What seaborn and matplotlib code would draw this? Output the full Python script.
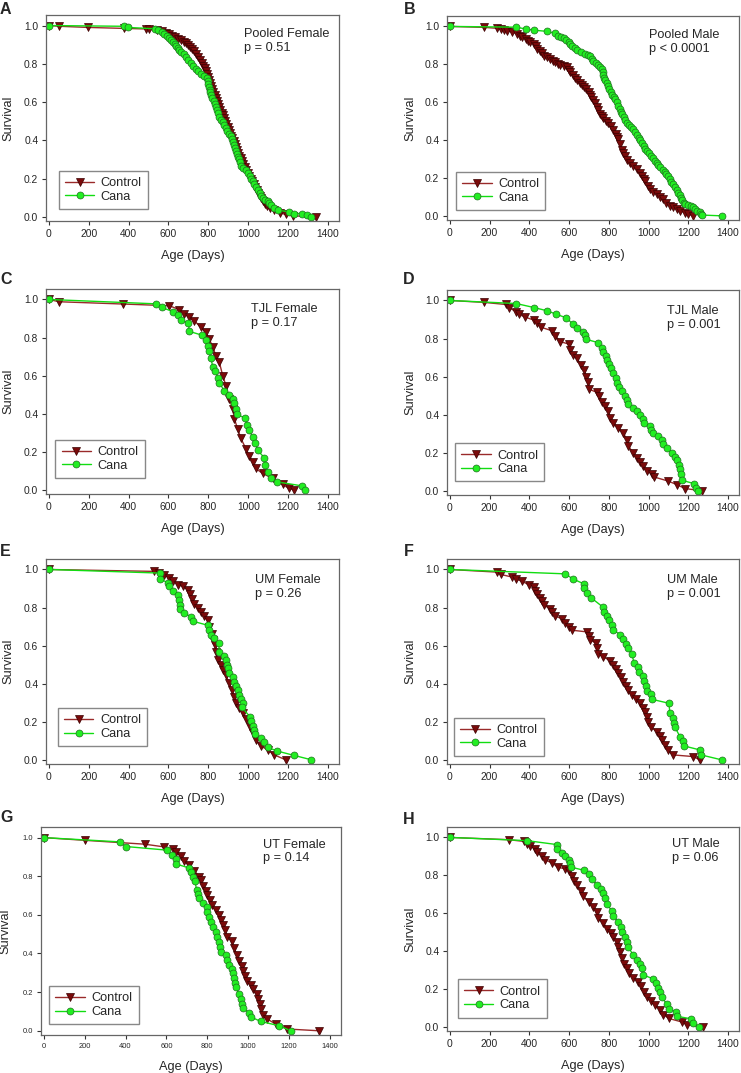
import numpy as np
import pandas as pd
import matplotlib
matplotlib.use("Agg")
import matplotlib.pyplot as plt
import seaborn as sns

# ---------------- Data (age in days, fraction surviving) ---------------- #

# A - Pooled Female
a_ctrl_age = [0, 52, 197, 375, 488, 500, 545, 570, 590, 605, 620, 635, 650, 665, 680, 690, 700, 710, 720, 730,
              740, 750, 760, 767, 775, 782, 790, 795, 800, 805, 810, 815, 820, 825, 832, 838, 845, 850, 855, 860,
              866, 872, 878, 885, 890, 897, 903, 910, 915, 921, 927, 933, 940, 945, 950, 956, 962, 968, 975, 982,
              990, 997, 1005, 1013, 1020, 1028, 1035, 1043, 1050, 1058, 1065, 1073, 1082, 1095, 1110, 1130, 1160,
              1188, 1222, 1338]
a_ctrl_surv = [1.0, 0.996, 0.99, 0.985, 0.982, 0.98, 0.975, 0.97, 0.962, 0.955, 0.946, 0.94, 0.93, 0.924, 0.915,
               0.906, 0.9, 0.888, 0.876, 0.865, 0.85, 0.836, 0.82, 0.806, 0.79, 0.776, 0.76, 0.745, 0.73, 0.716,
               0.70, 0.684, 0.666, 0.65, 0.636, 0.62, 0.604, 0.59, 0.576, 0.56, 0.545, 0.53, 0.516, 0.50, 0.486,
               0.47, 0.455, 0.44, 0.425, 0.41, 0.396, 0.38, 0.365, 0.35, 0.336, 0.32, 0.305, 0.29, 0.275, 0.26,
               0.245, 0.23, 0.215, 0.20, 0.186, 0.17, 0.155, 0.14, 0.125, 0.11, 0.096, 0.08, 0.066, 0.055, 0.045,
               0.035, 0.02, 0.012, 0.005, 0.0]
a_cana_age = [0, 375, 397, 533, 550, 567, 580, 595, 605, 615, 625, 632, 640, 648, 655, 665, 680, 690, 700, 713,
              725, 738, 750, 763, 780, 792, 797, 800, 803, 806, 810, 815, 820, 826, 832, 838, 845, 850, 855, 865,
              872, 880, 888, 895, 905, 913, 918, 922, 927, 932, 938, 943, 948, 953, 958, 963, 975, 988, 1000, 1008,
              1015, 1022, 1030, 1040, 1048, 1057, 1065, 1075, 1085, 1097, 1105, 1113, 1130, 1147, 1205, 1230, 1272,
              1297, 1317]
a_cana_surv = [1.0, 0.996, 0.99, 0.983, 0.975, 0.965, 0.955, 0.945, 0.935, 0.925, 0.915, 0.905, 0.895, 0.88,
               0.87, 0.86, 0.85, 0.835, 0.82, 0.805, 0.79, 0.775, 0.76, 0.745, 0.735, 0.725, 0.71, 0.695, 0.68,
               0.665, 0.65, 0.635, 0.62, 0.605, 0.59, 0.575, 0.56, 0.545, 0.52, 0.505, 0.495, 0.48, 0.465, 0.45,
               0.435, 0.42, 0.405, 0.39, 0.375, 0.36, 0.345, 0.33, 0.315, 0.30, 0.285, 0.265, 0.255, 0.245, 0.23,
               0.215, 0.20, 0.185, 0.17, 0.155, 0.14, 0.125, 0.11, 0.10, 0.09, 0.08, 0.07, 0.06, 0.045, 0.035,
               0.026, 0.017, 0.017, 0.009, 0.0]

# B - Pooled Male
b_ctrl_age = [0, 172, 239, 256, 272, 289, 314, 339, 352, 364, 381, 395, 406, 423, 432, 439, 456, 465, 473, 489,
              505, 520, 531, 545, 556, 575, 590, 600, 606, 620, 630, 640, 655, 665, 673, 685, 698, 705, 712, 723,
              730, 740, 748, 756, 765, 773, 785, 798, 810, 823, 835, 843, 848, 856, 865, 872, 880, 890, 905, 923,
              940, 957, 968, 975, 982, 995, 1007, 1020, 1041, 1058, 1074, 1090, 1108, 1125, 1141, 1160, 1183,
              1200, 1225]
b_ctrl_surv = [1.0, 0.995, 0.99, 0.986, 0.982, 0.978, 0.97, 0.96, 0.952, 0.942, 0.934, 0.925, 0.916, 0.907,
               0.895, 0.88, 0.872, 0.86, 0.846, 0.838, 0.83, 0.82, 0.81, 0.80, 0.794, 0.79, 0.785, 0.772, 0.76,
               0.745, 0.73, 0.716, 0.70, 0.69, 0.68, 0.668, 0.656, 0.64, 0.625, 0.61, 0.595, 0.576, 0.558, 0.54,
               0.528, 0.515, 0.503, 0.49, 0.473, 0.455, 0.43, 0.415, 0.403, 0.38, 0.35, 0.33, 0.315, 0.297, 0.28,
               0.262, 0.245, 0.227, 0.21, 0.197, 0.183, 0.16, 0.14, 0.128, 0.113, 0.10, 0.087, 0.07, 0.052, 0.044,
               0.035, 0.026, 0.017, 0.01, 0.0]
b_cana_age = [0, 334, 384, 423, 489, 531, 545, 560, 573, 585, 598, 607, 615, 628, 640, 660, 681, 695, 707, 715,
              723, 735, 748, 758, 765, 770, 773, 778, 783, 790, 797, 803, 810, 818, 825, 832, 840, 848, 855, 862,
              868, 875, 882, 890, 900, 912, 923, 932, 940, 950, 957, 965, 975, 983, 990, 1000, 1012, 1024, 1033,
              1041, 1050, 1060, 1074, 1082, 1090, 1099, 1108, 1115, 1124, 1133, 1142, 1149, 1156, 1162, 1168,
              1176, 1185, 1200, 1216, 1226, 1235, 1245, 1258, 1265, 1270, 1367]
b_cana_surv = [1.0, 0.996, 0.986, 0.98, 0.974, 0.963, 0.952, 0.945, 0.938, 0.928, 0.916, 0.907, 0.898, 0.886,
               0.876, 0.866, 0.857, 0.85, 0.843, 0.83, 0.82, 0.808, 0.796, 0.786, 0.775, 0.76, 0.745, 0.73, 0.715,
               0.70, 0.685, 0.67, 0.655, 0.64, 0.628, 0.615, 0.60, 0.58, 0.565, 0.55, 0.535, 0.52, 0.505, 0.49,
               0.478, 0.468, 0.458, 0.44, 0.425, 0.41, 0.398, 0.385, 0.37, 0.355, 0.34, 0.33, 0.318, 0.305, 0.292,
               0.28, 0.268, 0.257, 0.244, 0.232, 0.22, 0.209, 0.195, 0.18, 0.166, 0.15, 0.135, 0.122, 0.108, 0.095,
               0.082, 0.07, 0.061, 0.058, 0.052, 0.044, 0.036, 0.028, 0.02, 0.01, 0.004, 0.0]

# C - TJL Female
c_ctrl_age = [0, 52, 372, 605, 655, 680, 705, 730, 763, 788, 805, 822, 838, 855, 872, 888, 905, 922, 930, 947,
              963, 988, 1005, 1022, 1038, 1072, 1122, 1172, 1205, 1230]
c_ctrl_surv = [1.0, 0.988, 0.976, 0.967, 0.946, 0.923, 0.906, 0.888, 0.853, 0.827, 0.792, 0.749, 0.705, 0.67,
               0.60, 0.548, 0.478, 0.426, 0.374, 0.32, 0.27, 0.217, 0.18, 0.147, 0.112, 0.086, 0.06, 0.028,
               0.007, 0.0]
c_cana_age = [0, 538, 567, 625, 650, 663, 700, 705, 767, 788, 797, 802, 813, 822, 835, 847, 855, 880, 905, 922,
              930, 938, 942, 985, 992, 1005, 1022, 1035, 1047, 1080, 1085, 1097, 1113, 1142, 1268, 1285]
c_cana_surv = [1.0, 0.977, 0.958, 0.935, 0.918, 0.894, 0.874, 0.832, 0.813, 0.789, 0.757, 0.731, 0.691, 0.647,
               0.626, 0.59, 0.561, 0.521, 0.499, 0.478, 0.455, 0.426, 0.396, 0.377, 0.342, 0.312, 0.277, 0.248,
               0.208, 0.169, 0.129, 0.094, 0.063, 0.042, 0.021, 0.0]

# D - TJL Male
d_ctrl_age = [0, 172, 281, 298, 334, 348, 376, 423, 439, 460, 514, 531, 556, 598, 606, 618, 640, 660, 676, 686,
              693, 701, 740, 753, 765, 782, 798, 807, 823, 848, 873, 890, 899, 923, 940, 957, 973, 993, 1016, 1027,
              1099, 1141, 1183, 1271]
d_ctrl_surv = [1.0, 0.99, 0.979, 0.963, 0.94, 0.927, 0.914, 0.897, 0.883, 0.859, 0.841, 0.815, 0.784, 0.771,
               0.74, 0.714, 0.696, 0.661, 0.635, 0.60, 0.574, 0.534, 0.517, 0.496, 0.469, 0.443, 0.417, 0.382,
               0.356, 0.33, 0.304, 0.269, 0.234, 0.199, 0.173, 0.152, 0.129, 0.103, 0.089, 0.073, 0.051, 0.033,
               0.012, 0.0]
d_cana_age = [0, 334, 423, 489, 535, 585, 620, 640, 668, 681, 686, 748, 765, 773, 786, 790, 801, 810, 823, 835,
              843, 852, 865, 882, 890, 898, 923, 940, 957, 970, 977, 1007, 1012, 1021, 1049, 1066, 1074, 1094,
              1119, 1133, 1145, 1153, 1158, 1161, 1166, 1228, 1238, 1250]
d_cana_surv = [1.0, 0.984, 0.963, 0.946, 0.928, 0.909, 0.876, 0.857, 0.836, 0.818, 0.796, 0.778, 0.749, 0.731,
               0.709, 0.688, 0.667, 0.644, 0.618, 0.592, 0.565, 0.548, 0.522, 0.496, 0.475, 0.455, 0.435, 0.417,
               0.396, 0.377, 0.356, 0.342, 0.321, 0.304, 0.286, 0.269, 0.248, 0.225, 0.199, 0.176, 0.164, 0.138,
               0.112, 0.086, 0.056, 0.038, 0.016, 0.0]

# E - UM Female
e_ctrl_age = [0, 525, 552, 580, 605, 622, 647, 672, 697, 708, 718, 727, 747, 763, 780, 797, 802, 818, 825, 835,
              838, 847, 863, 875, 888, 905, 917, 930, 938, 955, 972, 988, 1008, 1022, 1038, 1063, 1097, 1130, 1188]
e_ctrl_surv = [1.0, 0.99, 0.981, 0.972, 0.956, 0.942, 0.921, 0.911, 0.894, 0.873, 0.846, 0.82, 0.799, 0.777,
               0.754, 0.733, 0.698, 0.663, 0.628, 0.602, 0.567, 0.527, 0.497, 0.471, 0.445, 0.401, 0.366, 0.332,
               0.297, 0.271, 0.244, 0.213, 0.175, 0.14, 0.105, 0.073, 0.052, 0.026, 0.0]
e_cana_age = [0, 558, 558, 597, 605, 622, 647, 655, 658, 658, 680, 713, 722, 797, 802, 813, 830, 852, 855, 880,
              888, 892, 897, 905, 922, 930, 938, 947, 955, 963, 972, 968, 1008, 1013, 1022, 1030, 1035, 1063,
              1080, 1097, 1142, 1230, 1317]
e_cana_surv = [1.0, 0.981, 0.951, 0.93, 0.911, 0.887, 0.864, 0.838, 0.815, 0.794, 0.771, 0.751, 0.728, 0.707,
               0.681, 0.656, 0.638, 0.612, 0.567, 0.546, 0.524, 0.497, 0.48, 0.454, 0.433, 0.41, 0.387, 0.366,
               0.34, 0.318, 0.297, 0.276, 0.227, 0.204, 0.18, 0.157, 0.134, 0.113, 0.091, 0.066, 0.047, 0.023, 0.0]

# F - UM Male
f_ctrl_age = [0, 239, 256, 314, 331, 364, 398, 423, 431, 439, 456, 464, 473, 506, 514, 531, 564, 581, 600, 614,
              690, 698, 707, 737, 740, 748, 773, 807, 820, 835, 848, 860, 873, 885, 895, 918, 935, 957, 970, 982,
              990, 998, 1011, 1044, 1058, 1066, 1083, 1099, 1121, 1225, 1258]
f_ctrl_surv = [1.0, 0.986, 0.974, 0.96, 0.951, 0.937, 0.92, 0.908, 0.887, 0.869, 0.852, 0.834, 0.812, 0.794,
               0.777, 0.754, 0.742, 0.719, 0.698, 0.681, 0.672, 0.65, 0.628, 0.614, 0.59, 0.558, 0.541, 0.52,
               0.497, 0.475, 0.454, 0.433, 0.41, 0.387, 0.366, 0.34, 0.318, 0.297, 0.274, 0.253, 0.227, 0.20,
               0.171, 0.148, 0.126, 0.105, 0.079, 0.052, 0.026, 0.017, 0.0]
f_cana_age = [0, 581, 618, 673, 676, 690, 710, 770, 777, 793, 803, 815, 820, 857, 873, 887, 899, 915, 927, 946,
              954, 974, 979, 987, 991, 1011, 1016, 1103, 1107, 1121, 1128, 1133, 1158, 1171, 1178, 1258, 1263, 1367]
f_cana_surv = [1.0, 0.977, 0.951, 0.925, 0.902, 0.876, 0.852, 0.803, 0.777, 0.756, 0.733, 0.707, 0.684, 0.658,
               0.637, 0.611, 0.585, 0.558, 0.511, 0.489, 0.462, 0.44, 0.415, 0.387, 0.363, 0.344, 0.318, 0.297,
               0.244, 0.222, 0.195, 0.171, 0.122, 0.101, 0.073, 0.052, 0.026, 0.0]

# G - UT Female
g_ctrl_age = [0, 201, 494, 589, 630, 646, 671, 687, 710, 736, 760, 768, 780, 793, 801, 812, 825, 842, 858, 866,
              878, 886, 899, 919, 932, 945, 956, 968, 976, 986, 997, 1013, 1025, 1043, 1050, 1058, 1063, 1071,
              1095, 1136, 1193, 1345]
g_ctrl_surv = [1.0, 0.986, 0.966, 0.952, 0.94, 0.926, 0.903, 0.88, 0.858, 0.829, 0.798, 0.778, 0.752, 0.726,
               0.704, 0.679, 0.653, 0.624, 0.598, 0.573, 0.55, 0.521, 0.487, 0.465, 0.427, 0.393, 0.362, 0.333,
               0.308, 0.282, 0.256, 0.239, 0.214, 0.191, 0.162, 0.137, 0.111, 0.082, 0.06, 0.034, 0.009, 0.0]
g_cana_age = [0, 372, 401, 605, 626, 646, 649, 711, 720, 728, 740, 748, 753, 761, 777, 797, 801, 809, 817, 829,
              842, 850, 858, 862, 867, 891, 899, 907, 919, 927, 932, 937, 940, 956, 965, 969, 976, 1005, 1013,
              1062, 1152, 1209]
g_cana_surv = [1.0, 0.978, 0.954, 0.935, 0.909, 0.889, 0.863, 0.843, 0.821, 0.798, 0.773, 0.73, 0.709, 0.687,
               0.662, 0.641, 0.615, 0.59, 0.564, 0.538, 0.513, 0.487, 0.462, 0.436, 0.41, 0.39, 0.368, 0.342,
               0.32, 0.299, 0.274, 0.248, 0.226, 0.188, 0.162, 0.137, 0.116, 0.094, 0.072, 0.048, 0.026, 0.0]

# H - UT Male
h_ctrl_age = [0, 297, 372, 386, 406, 431, 439, 464, 481, 514, 543, 581, 602, 614, 626, 640, 660, 670, 698, 723,
              740, 748, 773, 790, 810, 823, 840, 848, 857, 865, 877, 890, 903, 923, 948, 962, 977, 990, 1012, 1032,
              1057, 1074, 1103, 1166, 1191, 1275]
h_ctrl_surv = [1.0, 0.988, 0.979, 0.965, 0.953, 0.939, 0.923, 0.901, 0.88, 0.866, 0.843, 0.834, 0.822, 0.796,
               0.77, 0.747, 0.718, 0.692, 0.66, 0.631, 0.605, 0.573, 0.549, 0.517, 0.497, 0.474, 0.448, 0.422,
               0.395, 0.364, 0.334, 0.308, 0.282, 0.259, 0.239, 0.213, 0.186, 0.16, 0.139, 0.117, 0.091, 0.064,
               0.044, 0.026, 0.012, 0.0]
h_cana_age = [0, 389, 540, 540, 565, 581, 602, 606, 610, 677, 698, 715, 740, 762, 773, 782, 790, 815, 823, 848,
              860, 868, 882, 890, 898, 923, 940, 957, 965, 973, 1024, 1036, 1049, 1058, 1069, 1091, 1103, 1136,
              1141, 1216, 1225, 1253]
h_cana_surv = [1.0, 0.983, 0.962, 0.939, 0.918, 0.901, 0.883, 0.866, 0.843, 0.826, 0.805, 0.782, 0.749, 0.726,
               0.706, 0.678, 0.648, 0.613, 0.587, 0.552, 0.526, 0.503, 0.474, 0.448, 0.422, 0.378, 0.352, 0.331,
               0.308, 0.274, 0.253, 0.23, 0.207, 0.183, 0.155, 0.12, 0.096, 0.078, 0.056, 0.042, 0.021, 0.0]

panel_letters = ["A", "B", "C", "D", "E", "F", "G", "H"]
panel_titles = ["Pooled Female", "Pooled Male", "TJL Female", "TJL Male",
                "UM Female", "UM Male", "UT Female", "UT Male"]
p_values = ["p = 0.51", "p < 0.0001", "p = 0.17", "p = 0.001",
            "p = 0.26", "p = 0.001", "p = 0.14", "p = 0.06"]
ctrl_ages = [a_ctrl_age, b_ctrl_age, c_ctrl_age, d_ctrl_age, e_ctrl_age, f_ctrl_age, g_ctrl_age, h_ctrl_age]
ctrl_survs = [a_ctrl_surv, b_ctrl_surv, c_ctrl_surv, d_ctrl_surv, e_ctrl_surv, f_ctrl_surv, g_ctrl_surv, h_ctrl_surv]
cana_ages = [a_cana_age, b_cana_age, c_cana_age, d_cana_age, e_cana_age, f_cana_age, g_cana_age, h_cana_age]
cana_survs = [a_cana_surv, b_cana_surv, c_cana_surv, d_cana_surv, e_cana_surv, f_cana_surv, g_cana_surv, h_cana_surv]

# ---------------- Layout (pixels in a 741x1073 figure) ---------------- #

W, H = 741, 1073
# left, top, right, bottom of each axes box
boxes = [(46, 15, 339, 221), (447, 16, 739, 220),
         (46, 289, 339, 494), (447, 290, 739, 495),
         (46, 559, 339, 764), (447, 559, 739, 764),
         (41, 827, 341, 1035), (447, 827, 739, 1031)]
letter_pos = [(0, 9), (404, 9), (0, 280), (403, 280), (0, 551), (404, 551), (0, 818), (403, 820)]
note_pos = [(980, 0.985), (1001, 0.985), (1015, 0.98), (1091, 0.975),
            (1035, 0.975), (1091, 0.975), (1073, 0.995), (1116, 0.995)]
legend_pos = [(0.043, 0.057), (0.03, 0.049), (0.032, 0.078), (0.027, 0.066),
              (0.04, 0.086), (0.024, 0.039), (0.027, 0.051), (0.036, 0.065)]

sns.set_style("ticks")
plt.rcParams['font.family'] = ['Liberation Sans', 'DejaVu Sans']

CTRL_FACE = '#7a0a0a'
CTRL_LINE = '#9a2a2a'
CANA_FACE = '#22ee22'
CANA_LINE = '#11dd11'
TXT = 9.2

fig = plt.figure(figsize=(W / 100, H / 100), dpi=100)

for i in range(8):
    l, t, r, b = boxes[i]
    ax = fig.add_axes([l / W, 1 - b / H, (r - l) / W, (b - t) / H])
    small = (i == 6)

    ctrl = pd.DataFrame({'age': ctrl_ages[i], 'surv': ctrl_survs[i]})
    cana = pd.DataFrame({'age': cana_ages[i], 'surv': cana_survs[i]})
    sns.lineplot(data=ctrl, x='age', y='surv', ax=ax, sort=False, estimator=None,
                 color=CTRL_LINE, lw=1.0, marker='v', markersize=5.4,
                 markerfacecolor=CTRL_FACE, markeredgecolor='#3a0000', markeredgewidth=0.5,
                 label='Control')
    sns.lineplot(data=cana, x='age', y='surv', ax=ax, sort=False, estimator=None,
                 color=CANA_LINE, lw=1.0, marker='o', markersize=5.0,
                 markerfacecolor=CANA_FACE, markeredgecolor='#1f6f1f', markeredgewidth=0.5,
                 label='Cana')

    ax.set_xlim(-14, 1455)
    ax.set_ylim(-0.022, 1.055)
    ax.set_xticks(np.arange(0, 1401, 200))
    ax.set_yticks(np.arange(0, 1.01, 0.2))
    ax.set_yticklabels([f"{v:.1f}" for v in np.arange(0, 1.01, 0.2)])
    ax.tick_params(direction='out', length=3, width=0.8, color='#333333',
                   labelsize=5.4 if small else 7.4, pad=2.5)
    for s in ax.spines.values():
        s.set_visible(True)
        s.set_color('#666666')
        s.set_linewidth(0.9)

    ax.set_xlabel('Age (Days)', fontsize=TXT)
    ax.set_ylabel('Survival', fontsize=TXT)
    ax.xaxis.set_label_coords(0.5, -0.155 if small else -0.172)
    ax.xaxis.label.set_va('center')
    ax.yaxis.set_label_coords(-0.12 if small else -0.127, 0.5)
    ax.yaxis.label.set_va('center')

    nx, ny = note_pos[i]
    ax.text(nx, ny, panel_titles[i] + "\n" + p_values[i], fontsize=TXT,
            ha='left', va='top', linespacing=1.2)

    leg = ax.legend(loc='lower left', bbox_to_anchor=legend_pos[i], borderaxespad=0,
                    fontsize=TXT, frameon=True, fancybox=False, framealpha=1,
                    edgecolor='#888888', handlelength=2.3, handletextpad=0.5,
                    labelspacing=0.12, borderpad=0.5)
    leg.get_frame().set_linewidth(1.0)

    lx, ly = letter_pos[i]
    fig.text(lx / W, 1 - ly / H, panel_letters[i], fontsize=11.5, fontweight='bold',
             ha='left', va='center')

fig.savefig('out.png', dpi=100)
